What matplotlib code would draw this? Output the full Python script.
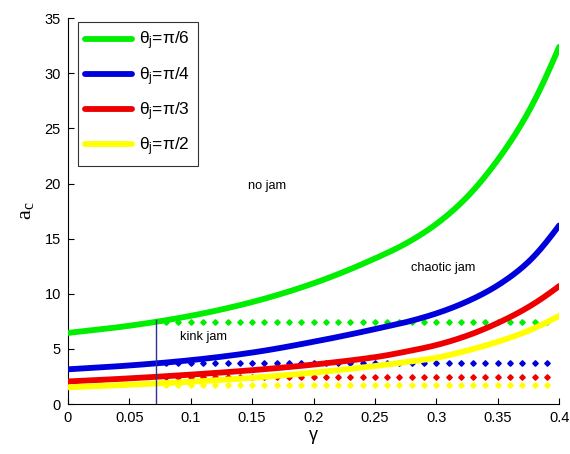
import matplotlib
matplotlib.use("Agg")
import matplotlib.pyplot as plt
import numpy as np

plt.rcParams['font.family'] = ['Liberation Sans', 'DejaVu Sans']

gamma = [0.0, 0.05, 0.1, 0.15, 0.2, 0.25, 0.275, 0.3, 0.325, 0.35, 0.375, 0.4]
ac_pi6 = [6.45, 7.1, 8.0, 9.25, 10.95, 13.2, 14.55, 16.33, 18.78, 22.15, 26.5, 32.4]
ac_pi4 = [3.15, 3.5, 3.98, 4.67, 5.65, 6.8, 7.42, 8.22, 9.3, 10.77, 12.9, 16.2]
ac_pi3 = [2.05, 2.33, 2.67, 3.07, 3.58, 4.25, 4.75, 5.35, 6.2, 7.35, 8.8, 10.7]
ac_pi2 = [1.52, 1.75, 2.02, 2.38, 2.85, 3.45, 3.8, 4.2, 4.85, 5.65, 6.65, 8.0]

dot_gamma = [round(0.08 + 0.01 * i, 2) for i in range(32)]
dot_levels = [7.46, 3.7, 2.44, 1.77]

kink_gamma = 0.0717
kink_top = 7.6

labels = [r'$\mathregular{θ_j}$=π/6', r'$\mathregular{θ_j}$=π/4',
          r'$\mathregular{θ_j}$=π/3', r'$\mathregular{θ_j}$=π/2']
colors = ['#00ee00', '#0000dd', '#ee0000', '#ffff00']
series = [ac_pi6, ac_pi4, ac_pi3, ac_pi2]


def smooth(xk, yk, xs):
    # cubic Hermite through the read points, in log space
    xk = np.asarray(xk, float)
    yk = np.log(np.asarray(yk, float))
    n = len(xk)
    m = np.zeros(n)
    for i in range(n):
        if i == 0:
            m[i] = (yk[1] - yk[0]) / (xk[1] - xk[0])
        elif i == n - 1:
            m[i] = (yk[-1] - yk[-2]) / (xk[-1] - xk[-2])
        else:
            m[i] = (yk[i + 1] - yk[i - 1]) / (xk[i + 1] - xk[i - 1])
    out = np.empty_like(xs)
    for j, x in enumerate(xs):
        i = min(np.searchsorted(xk, x, side='right') - 1, n - 2)
        h = xk[i + 1] - xk[i]
        t = (x - xk[i]) / h
        h00 = 2 * t**3 - 3 * t**2 + 1
        h10 = t**3 - 2 * t**2 + t
        h01 = -2 * t**3 + 3 * t**2
        h11 = t**3 - t**2
        out[j] = h00 * yk[i] + h10 * h * m[i] + h01 * yk[i + 1] + h11 * h * m[i + 1]
    return np.exp(out)


fig = plt.figure(figsize=(5.7, 4.54), dpi=100)
ax = fig.add_axes([0.119, 0.110, 0.862, 0.850])

xs = np.linspace(0, 0.4, 300)
for y, c, lab in zip(series, colors, labels):
    ax.plot(xs, smooth(gamma, y, xs), color=c, lw=4.2, label=lab,
            solid_capstyle='round', zorder=3)

for lvl, c in zip(dot_levels, colors):
    ax.plot(dot_gamma, [lvl] * len(dot_gamma), linestyle='none', marker='D',
            markersize=2.8, color=c, zorder=2)

ax.plot([kink_gamma, kink_gamma], [0, kink_top], color='#303090', lw=1.0, zorder=4)

ax.text(0.147, 19.8, 'no jam', fontsize=9.2, va='center', ha='left')
ax.text(0.279, 12.3, 'chaotic jam', fontsize=9.2, va='center', ha='left')
ax.text(0.091, 6.1, 'kink jam', fontsize=9.2, va='center', ha='left')

ax.set_xlim(0, 0.4)
ax.set_ylim(0, 35)
ax.set_xticks([0, 0.05, 0.1, 0.15, 0.2, 0.25, 0.3, 0.35, 0.4])
ax.set_xticklabels(['0', '0.05', '0.1', '0.15', '0.2', '0.25', '0.3', '0.35', '0.4'])
ax.set_yticks(range(0, 36, 5))
ax.tick_params(direction='in', labelsize=10.5, length=4, width=0.8, pad=5)
ax.spines['top'].set_visible(False)
ax.spines['right'].set_visible(False)
ax.set_xlabel(r'$\mathregular{γ}$', fontsize=13, labelpad=2)
ax.set_ylabel(r'$\mathregular{a_c}$', fontsize=16, labelpad=6,
              family=['Liberation Serif', 'DejaVu Serif'])

leg = ax.legend(loc='upper left', bbox_to_anchor=(0.02, 0.99), fontsize=12.5,
                handlelength=2.7, frameon=True, fancybox=False, edgecolor='black',
                labelspacing=0.72, borderpad=0.45, handletextpad=0.4,
                borderaxespad=0.0)
leg.get_frame().set_linewidth(0.8)

fig.savefig('out.png', dpi=100)
